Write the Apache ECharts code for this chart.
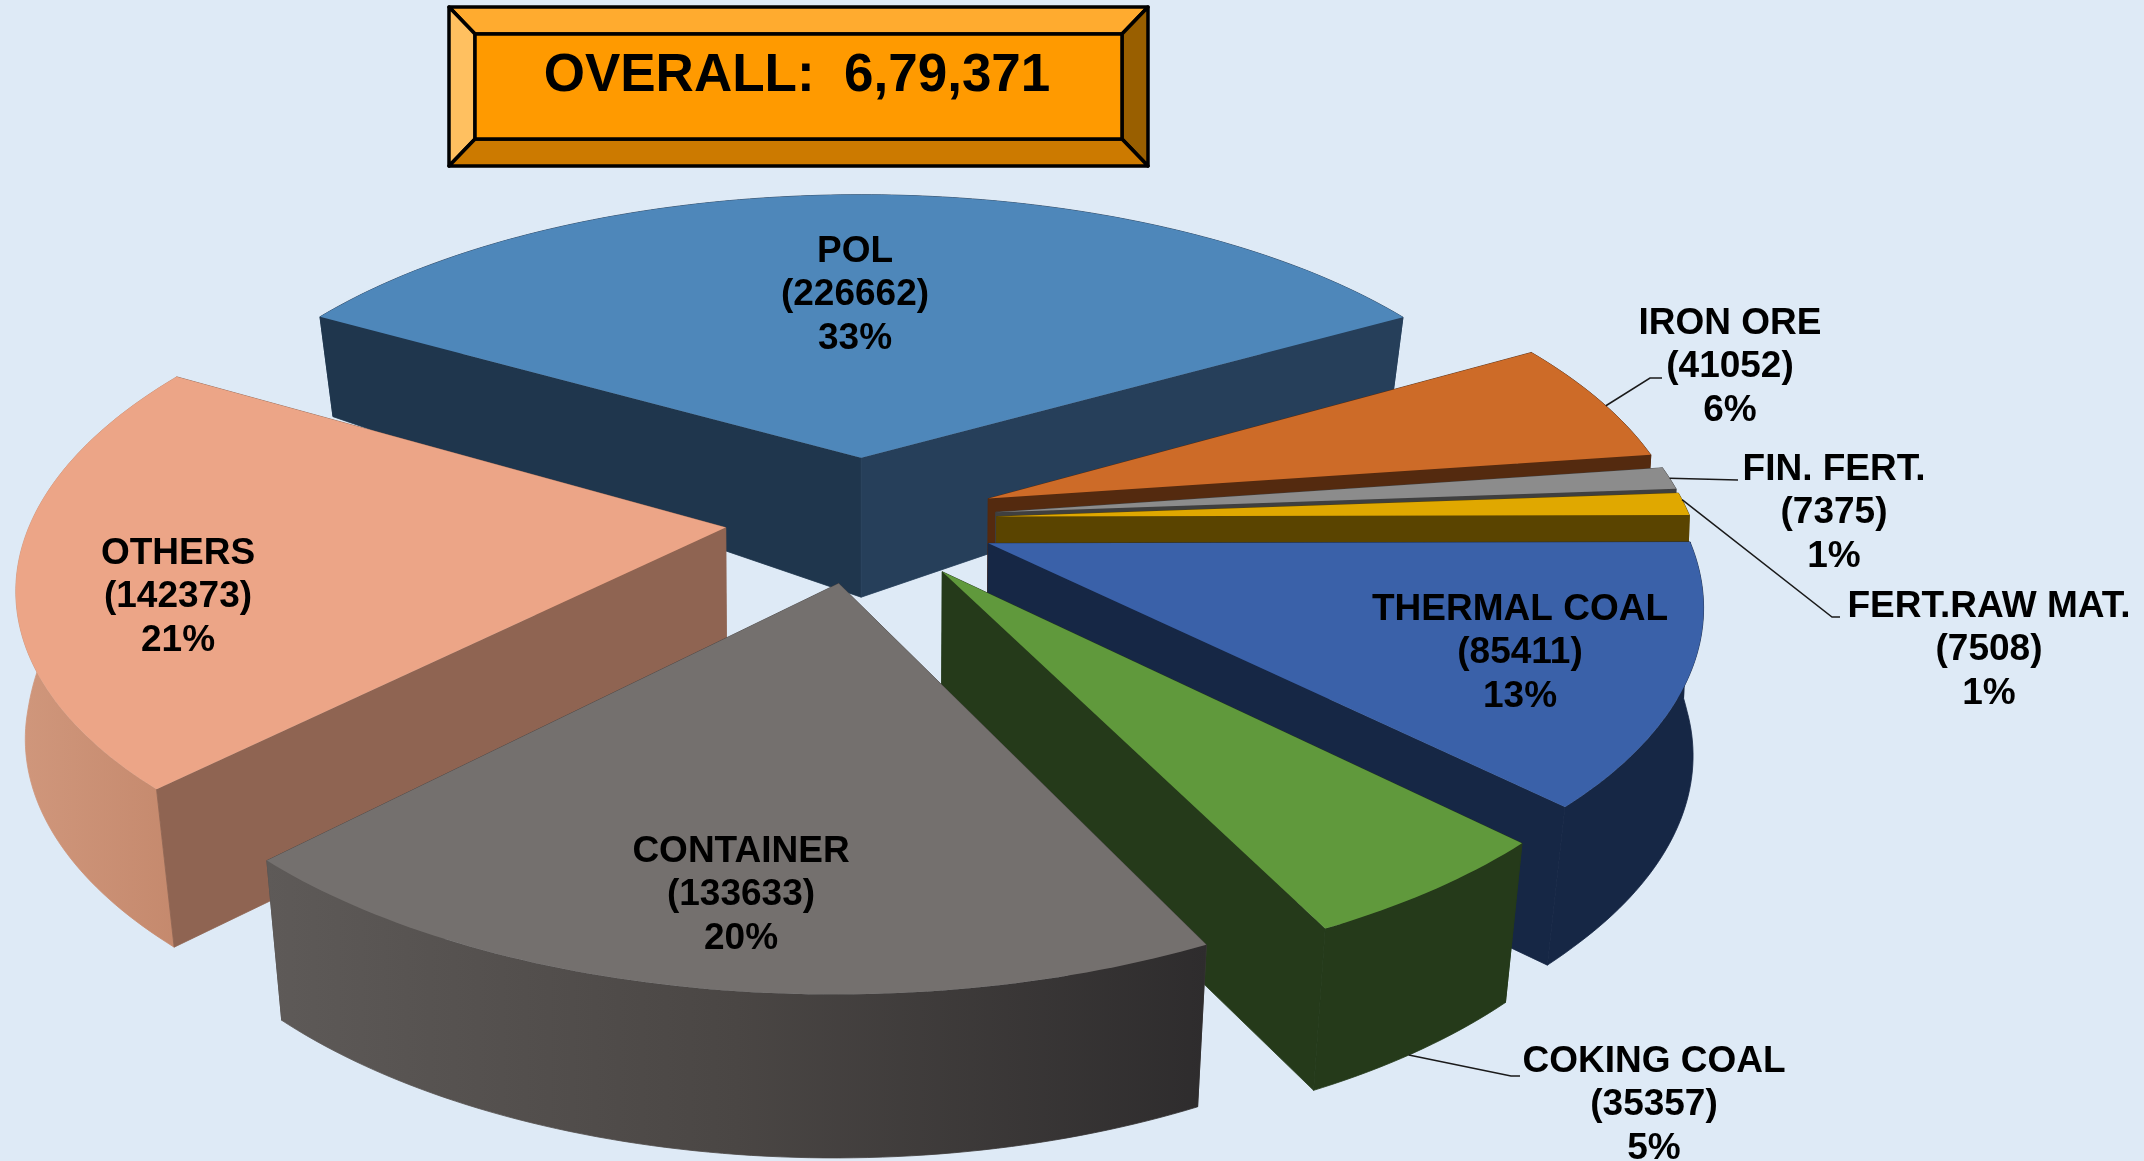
<!DOCTYPE html>
<html>
<head>
<meta charset="utf-8">
<style>html,body{margin:0;padding:0;background:#deeaf6}#container{width:2144px;height:1161px}</style>
<script src="https://cdn.jsdelivr.net/npm/echarts@6/dist/echarts.min.js"></script>
</head>
<body>
<div id="container"></div>
<script type="text/javascript">
// slices, clockwise from the back left edge of POL
var categories = ['POL', 'IRON ORE', 'FIN. FERT.', 'FERT.RAW MAT.', 'THERMAL COAL', 'COKING COAL', 'CONTAINER', 'OTHERS'];
var values = [226662, 41052, 7375, 7508, 85411, 35357, 133633, 142373];
var overallText = 'OVERALL:  6,79,371';

var topColors = ['#4e87ba', '#cd6b28', '#8c8c8c', '#e0a800', '#3a61a9', '#60993c', '#74706e', '#eca587'];
var edgeColors = ['#263f5a', '#542a0f', '#3f3f3f', '#5a4400', '#162745', '#253a1a', '#4a4645', '#8f6452'];
var leftEdgeColors = ['#1f364d', '#542a0f', '#3f3f3f', '#5a4400', '#162745', '#253a1a', '#4a4645', '#8f6452'];
var rimColors = [['#263f5a'], ['#542a0f'], ['#3f3f3f'], ['#5a4400'],
    ['#162745'], ['#253a1a'], ['#5e5a58', '#4a4644', '#2e2c2d'], ['#d0977c', '#c4886c']];

// label centres and leader elbows, in page pixels
var labelX = [855, 1730, 1834, 1989, 1520, 1654, 741, 178];
var labelY = [295, 367, 513, 650, 653, 1105, 895, 597];
var leaderPath = [null, [[1650, 378], [1662, 378]], [[1738, 480]], [[1832, 617], [1840, 617]], null, [[1511, 1076], [1520, 1076]], null, null];
var leaderFrom = [null, 0.55, 0.5, 0.3, null, 0.55, null, null];
var leaderDown = [0, 0, 0, 0, 0, 1, 0, 0];

// projection of the tilted pie
var cx = 861, cy = 519, R = 694, tilt = 0.465, persp = 0.159, explode = 0.196, startDeg = -60;
var dropY = [-1.3, -0.69, -0.19, 0.1, 0.78, 1.3];
var dropPx = [90, 100, 140, 158, 158, 165];
var labelFont = 'bold 37px "Liberation Sans", Arial, sans-serif';

var total = values.reduce(function (a, b) { return a + b; }, 0);
var slices = [];
var acc = startDeg;
for (var i = 0; i < values.length; i++) {
    var sweep = values[i] / total * 360;
    slices.push({ a0: acc, a1: acc + sweep, mid: acc + sweep / 2 });
    acc += sweep;
}
var rad = Math.PI / 180;
var drawOrder = values.map(function (v, i) { return i; }).sort(function (p, q) {
    return -Math.cos(slices[p].mid * rad) + Math.cos(slices[q].mid * rad);
});

function wallDrop(y) {
    for (var n = 1; n < dropY.length; n++) {
        if (y <= dropY[n]) {
            return dropPx[n - 1] + (dropPx[n] - dropPx[n - 1]) * (y - dropY[n - 1]) / (dropY[n] - dropY[n - 1]);
        }
    }
    return dropPx[dropPx.length - 1];
}

// world x right, y towards viewer, down = 1 for the underside
function project(xw, yw, down) {
    var s = 1 / (1 - persp * yw);
    var inward = down ? Math.min(0.025, 0.006 + 0.026 * Math.abs(yw)) : 0;
    return [cx + xw * R * s * (1 - inward), cy + yw * tilt * R * s + (down ? wallDrop(yw) : 0)];
}

function rimPoint(sl, deg) {
    return [explode * Math.sin(sl.mid * rad) + Math.sin(deg * rad), -explode * Math.cos(sl.mid * rad) - Math.cos(deg * rad)];
}

function rimFill(idx) {
    var cols = rimColors[idx];
    if (cols.length === 1) return cols[0];
    return new echarts.graphic.LinearGradient(0, 0, 1, 0, cols.map(function (c, n) {
        return { offset: n / (cols.length - 1), color: c };
    }));
}

function renderSlice(params, api) {
    var idx = api.value(0);
    var sl = slices[idx];
    var apex = [explode * Math.sin(sl.mid * rad), -explode * Math.cos(sl.mid * rad)];
    var rim = [];
    for (var d = sl.a0; d < sl.a1; d += 1) rim.push(rimPoint(sl, d));
    rim.push(rimPoint(sl, sl.a1));

    var rimTop = rim.map(function (p) { return project(p[0], p[1], 0); });
    var rimBottom = rim.map(function (p) { return project(p[0], p[1], 1); });
    var apexTop = project(apex[0], apex[1], 0);
    var apexBottom = project(apex[0], apex[1], 1);
    var last = rim.length - 1;

    var walls = [
        { y: (apex[1] + rim[0][1]) / 2, points: [apexTop, rimTop[0], rimBottom[0], apexBottom], fill: leftEdgeColors[idx] },
        { y: (apex[1] + rim[last][1]) / 2, points: [apexTop, rimTop[last], rimBottom[last], apexBottom], fill: edgeColors[idx] },
        { y: (rim[0][1] + rim[last][1]) / 2, points: rimTop.concat(rimBottom.slice().reverse()), fill: rimFill(idx) }
    ];
    walls.sort(function (p, q) { return p.y - q.y; });

    var children = walls.map(function (w) {
        return { type: 'polygon', shape: { points: w.points }, style: { fill: w.fill, stroke: w.fill, lineWidth: 0.8 } };
    });
    children.push({ type: 'polygon', shape: { points: [apexTop].concat(rimTop) }, style: { fill: topColors[idx], stroke: null } });

    if (leaderPath[idx]) {
        var t = leaderFrom[idx];
        var p0 = rimPoint(sl, sl.a0 + (sl.a1 - sl.a0) * t);
        children.push({
            type: 'polyline', z2: 20,
            shape: { points: [project(p0[0], p0[1], leaderDown[idx])].concat(leaderPath[idx]) },
            style: { fill: null, stroke: '#1a1a1a', lineWidth: 1.5 }
        });
    }
    children.push({
        type: 'text', z2: 30,
        x: labelX[idx], y: labelY[idx],
        style: {
            text: categories[idx] + '\n(' + values[idx] + ')\n' + Math.round(values[idx] / total * 100) + '%',
            font: labelFont, lineHeight: 43.5, fill: '#000',
            align: 'center', verticalAlign: 'middle'
        }
    });
    return { type: 'group', children: children };
}

function bevel(points, fill) {
    return { type: 'polygon', shape: { points: points }, style: { fill: fill, stroke: '#000', lineWidth: 3.5, lineJoin: 'round' } };
}

var bx0 = 449, bx1 = 1148, by0 = 7, by1 = 166, ix0 = 475, ix1 = 1122, iy0 = 34, iy1 = 139;

var myChart = echarts.init(document.getElementById('container'));
myChart.setOption({
    backgroundColor: '#deeaf6',
    animation: false,
    graphic: [
        bevel([[bx0, by0], [bx1, by0], [ix1, iy0], [ix0, iy0]], '#ffab2f'),
        bevel([[bx0, by0], [ix0, iy0], [ix0, iy1], [bx0, by1]], '#ffc060'),
        bevel([[bx1, by0], [ix1, iy0], [ix1, iy1], [bx1, by1]], '#995f00'),
        bevel([[bx0, by1], [ix0, iy1], [ix1, iy1], [bx1, by1]], '#cc7a00'),
        bevel([[ix0, iy0], [ix1, iy0], [ix1, iy1], [ix0, iy1]], '#ff9a00'),
        {
            type: 'text', x: 797, y: 76,
            style: { text: overallText, font: 'bold 53px "Liberation Sans", Arial, sans-serif', fill: '#000', align: 'center', verticalAlign: 'middle' }
        }
    ],
    series: [{
        type: 'custom',
        coordinateSystem: 'none',
        silent: true,
        renderItem: renderSlice,
        data: drawOrder.map(function (i) { return [i]; })
    }]
});
</script>
</body>
</html>
